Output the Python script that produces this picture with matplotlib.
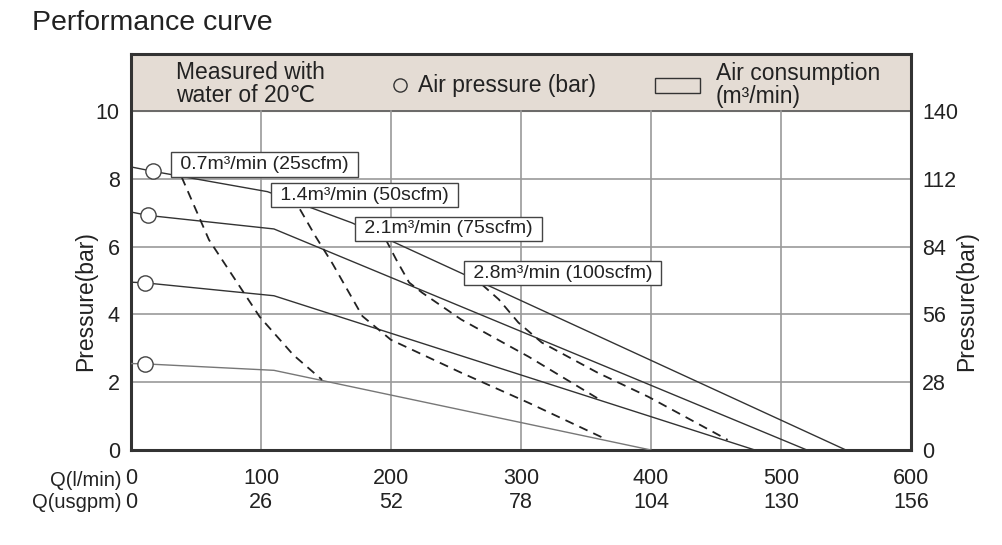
import matplotlib
matplotlib.use('Agg')
import matplotlib.pyplot as plt
from matplotlib.patches import Rectangle

plt.rcParams['font.family'] = ['Liberation Sans', 'DejaVu Sans']

# x axis: flow in l/min, with the US gpm equivalent underneath
q_lmin = [0, 100, 200, 300, 400, 500, 600]
q_usgpm = [0, 26, 52, 78, 104, 130, 156]
p_ticks = [0, 2, 4, 6, 8, 10]
p_right = [0, 28, 56, 84, 112, 140]

# pressure curves (solid), one per inlet air pressure
p8_q = [0, 17, 105, 170, 550]
p8_p = [8.35, 8.22, 7.62, 6.7, 0]
p7_q = [0, 13, 110, 520]
p7_p = [7.02, 6.92, 6.52, 0]
p5_q = [0, 11, 110, 480]
p5_p = [4.95, 4.93, 4.55, 0]
p25_q = [0, 11, 110, 400]
p25_p = [2.55, 2.54, 2.35, 0]

# start markers (air pressure)
circ_q = [17, 13, 11, 11]
circ_p = [8.22, 6.92, 4.94, 2.55]

# air consumption curves (dashed)
a07_q = [39, 60, 99, 125, 147]
a07_p = [8.05, 6.2, 3.93, 2.8, 2.07]
a14_q = [130, 142, 155, 178, 200, 254, 306, 362]
a14_p = [7.1, 6.3, 5.5, 3.95, 3.25, 2.28, 1.39, 0.38]
a21_q = [196, 204, 214, 224, 254, 306, 360]
a21_p = [6.21, 5.62, 4.94, 4.64, 3.85, 2.75, 1.5]
a28_q = [270, 283, 298, 316, 359, 398, 459]
a28_p = [4.88, 4.44, 3.76, 3.17, 2.28, 1.57, 0.3]

# labels of the air consumption curves
lab_text = ['0.7m³/min (25scfm)', '1.4m³/min (50scfm)',
            '2.1m³/min (75scfm)', '2.8m³/min (100scfm)']
lab_q = [103, 180, 244, 332]
lab_p = [8.41, 7.52, 6.52, 5.22]

ytop = 11.68  # top of the header band
ink = '#222222'

fig = plt.figure(figsize=(10.02, 5.45), dpi=100)
ax = fig.add_axes([0.1307, 0.1743, 0.7784, 0.7266])

ax.set_xlim(0, 600)
ax.set_ylim(0, ytop)

# header band
ax.axhspan(10, ytop, color='#e4dcd4', zorder=0)
ax.axhline(10, color='#555555', lw=1.2, zorder=1)

# grid
for q in q_lmin[1:-1]:
    ax.plot([q, q], [0, 10], color='#9a9a9a', lw=1.2, zorder=1)
for p in p_ticks[1:-1]:
    ax.axhline(p, color='#9a9a9a', lw=1.2, zorder=1)

# pressure curves
for qs, ps in [(p8_q, p8_p), (p7_q, p7_p), (p5_q, p5_p)]:
    ax.plot(qs, ps, color='#333333', lw=1.0, zorder=3)
ax.plot(p25_q, p25_p, color='#777777', lw=1.0, zorder=3)
ax.plot(circ_q, circ_p, 'o', ms=11, mfc='white', mec='#444444', mew=1.0,
        ls='none', zorder=4)

# air consumption curves
for qs, ps in [(a07_q, a07_p), (a14_q, a14_p), (a21_q, a21_p), (a28_q, a28_p)]:
    ax.plot(qs, ps, color=ink, lw=1.3, ls=(0, (5, 3.5)), zorder=3)

for t, q, p in zip(lab_text, lab_q, lab_p):
    ax.text(q, p, ' ' + t + ' ', ha='center', va='center', fontsize=14, color=ink,
            zorder=6, bbox=dict(boxstyle='square,pad=0.2', fc='white', ec='#444444', lw=1.0))

# frame
for s in ax.spines.values():
    s.set_linewidth(2.2)
    s.set_color('#333333')

# axes ticks
ax.set_xticks(q_lmin)
ax.set_xticklabels([f'{a}\n{b}' for a, b in zip(q_lmin, q_usgpm)], linespacing=1.2)
ax.set_yticks(p_ticks)
ax.tick_params(length=0, labelsize=15.5, colors=ink)
ax.tick_params(axis='x', pad=13)
ax.tick_params(axis='y', pad=8)

ax2 = ax.twinx()
ax2.set_ylim(0, ytop * 14)
ax2.set_yticks(p_right)
ax2.tick_params(length=0, labelsize=15.5, colors=ink, pad=8)
for s in ax2.spines.values():
    s.set_visible(False)

ax.text(-0.012, -0.078, 'Q(l/min)', transform=ax.transAxes, ha='right', va='center',
        fontsize=14.5, color=ink)
ax.text(-0.012, -0.133, 'Q(usgpm)', transform=ax.transAxes, ha='right', va='center',
        fontsize=14.5, color=ink)

ax.text(-0.058, 0.375, 'Pressure(bar)', transform=ax.transAxes, rotation=90,
        ha='center', va='center', fontsize=16.5, color=ink)
ax.text(1.072, 0.375, 'Pressure(bar)', transform=ax.transAxes, rotation=90,
        ha='center', va='center', fontsize=16.5, color=ink)

# header contents
ax.text(0.0577, 0.925, 'Measured with\nwater of 20℃', transform=ax.transAxes,
        ha='left', va='center', fontsize=16.5, linespacing=0.98, color=ink)
ax.plot([0.345], [0.9217], 'o', ms=9.5, mfc='none', mec='#333333', mew=1.0,
        transform=ax.transAxes, clip_on=False)
ax.text(0.368, 0.9217, 'Air pressure (bar)', transform=ax.transAxes,
        ha='left', va='center', fontsize=16.5, color=ink)
ax.add_patch(Rectangle((0.672, 0.9015), 0.0577, 0.0379, transform=ax.transAxes,
                       fc='none', ec='#333333', lw=1.0))
ax.text(0.75, 0.922, 'Air consumption\n(m³/min)', transform=ax.transAxes,
        ha='left', va='center', fontsize=16.5, linespacing=0.98, color=ink)

fig.text(32 / 1002, 1 - 23 / 545, 'Performance curve', ha='left', va='center',
         fontsize=20.5, color=ink)

fig.savefig('out.png', dpi=100)
